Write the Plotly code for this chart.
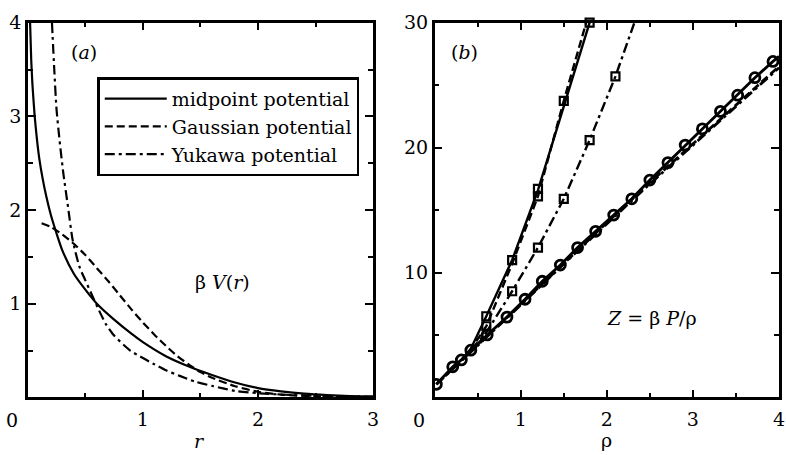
import plotly.graph_objects as go

# ---------------- data: panel (a) ----------------
series_names = ["midpoint potential", "Gaussian potential", "Yukawa potential"]

mid_r = [0.02, 0.03, 0.04, 0.06, 0.08, 0.10, 0.13, 0.16, 0.20, 0.25, 0.30, 0.40, 0.50, 0.60,
         0.75, 0.90, 1.00, 1.20, 1.40, 1.60, 1.80, 2.00, 2.20, 2.40, 2.60, 2.80, 3.00]
mid_v = [4.00, 3.60, 3.35, 3.00, 2.75, 2.55, 2.33, 2.15, 1.95, 1.75, 1.57, 1.32, 1.15, 1.00,
         0.83, 0.68, 0.59, 0.44, 0.33, 0.24, 0.16, 0.10, 0.065, 0.04, 0.025, 0.015, 0.01]

gau_r = [0.12, 0.20, 0.30, 0.40, 0.50, 0.60, 0.70, 0.80, 0.90, 1.00, 1.10, 1.20, 1.30, 1.40,
         1.50, 1.60, 1.80, 2.00, 2.20, 2.50, 2.80, 3.00]
gau_v = [1.86, 1.82, 1.74, 1.64, 1.52, 1.38, 1.24, 1.09, 0.94, 0.80, 0.67, 0.55, 0.44, 0.35,
         0.27, 0.21, 0.12, 0.06, 0.03, 0.012, 0.005, 0.003]

yuk_r = [0.21, 0.23, 0.25, 0.28, 0.31, 0.35, 0.39, 0.45, 0.50, 0.57, 0.63, 0.68, 0.75, 0.89,
         1.00, 1.09, 1.20, 1.32, 1.45, 1.61, 1.80, 2.00, 2.30, 2.60, 3.00]
yuk_v = [4.00, 3.50, 3.07, 2.70, 2.38, 2.03, 1.68, 1.39, 1.25, 1.06, 0.90, 0.78, 0.66, 0.50,
         0.42, 0.36, 0.29, 0.23, 0.17, 0.12, 0.07, 0.045, 0.025, 0.015, 0.008]

# ---------------- data: panel (b) ----------------
circ_rho = [0.02, 0.21, 0.31, 0.42, 0.61, 0.84, 1.05, 1.25, 1.46, 1.66, 1.87, 2.08, 2.29, 2.50,
            2.71, 2.91, 3.11, 3.32, 3.52, 3.72, 3.93]
circ_z = [1.05, 2.45, 3.00, 3.78, 5.00, 6.43, 7.86, 9.30, 10.6, 12.0, 13.3, 14.6, 15.9, 17.4,
          18.8, 20.2, 21.5, 22.9, 24.2, 25.6, 26.9]

low_mid_rho = circ_rho + [4.0]
low_mid_z = circ_z + [27.3]

low_rho = [0.02, 0.5, 1.0, 1.5, 2.0, 2.5, 3.0, 3.5, 4.0]
low_gau_z = [1.05, 4.20, 7.45, 10.8, 14.0, 17.2, 20.3, 23.4, 26.5]
low_yuk_z = [1.05, 4.15, 7.40, 10.7, 13.9, 17.1, 20.2, 23.3, 26.4]

up_mid_rho = [0.31, 0.42, 0.60, 0.90, 1.20, 1.50, 1.80]
up_mid_z = [3.00, 3.90, 6.50, 11.0, 16.6, 23.2, 30.0]
up_gau_rho = [0.31, 0.42, 0.60, 0.90, 1.20, 1.50, 1.76]
up_gau_z = [3.00, 3.85, 5.70, 10.7, 16.1, 23.75, 30.0]
up_yuk_rho = [0.42, 0.60, 0.70, 0.90, 1.20, 1.50, 1.80, 2.10, 2.32]
up_yuk_z = [3.80, 5.20, 6.30, 8.50, 12.0, 15.9, 20.6, 25.7, 30.0]

sq_mid_rho = [0.6, 0.9, 1.2, 1.8]
sq_mid_z = [6.5, 11.0, 16.7, 30.0]
sq_gau_rho = [0.6, 1.2, 1.5]
sq_gau_z = [5.7, 16.1, 23.75]
sq_yuk_rho = [0.9, 1.2, 1.5, 1.8, 2.1]
sq_yuk_z = [8.5, 12.0, 15.9, 20.6, 25.7]

ticks_a_x = [0, 1, 2, 3]
ticks_a_y = [1, 2, 3, 4]
ticks_b_x = [0, 1, 2, 3, 4]
ticks_b_y = [10, 20, 30]

# ---------------- styles ----------------
FONT = "DejaVu Serif"
K = "black"
DASH = "8px,4px"
DASHDOT = "10px,4px,3px,4px"

fig = go.Figure()

# panel (a)
fig.add_trace(go.Scatter(x=mid_r, y=mid_v, mode="lines", name=series_names[0],
                         line=dict(color=K, width=2.2, shape="spline", smoothing=0.6),
                         xaxis="x", yaxis="y"))
fig.add_trace(go.Scatter(x=gau_r, y=gau_v, mode="lines", name=series_names[1],
                         line=dict(color=K, width=2.2, dash=DASH, shape="spline", smoothing=0.6),
                         xaxis="x", yaxis="y"))
fig.add_trace(go.Scatter(x=yuk_r, y=yuk_v, mode="lines", name=series_names[2],
                         line=dict(color=K, width=2.2, dash=DASHDOT, shape="spline", smoothing=0.6),
                         xaxis="x", yaxis="y"))

# panel (b) lower branch
fig.add_trace(go.Scatter(x=low_rho, y=low_gau_z, mode="lines", showlegend=False,
                         line=dict(color=K, width=2.8, dash=DASH), xaxis="x2", yaxis="y2"))
fig.add_trace(go.Scatter(x=low_rho, y=low_yuk_z, mode="lines", showlegend=False,
                         line=dict(color=K, width=2.8, dash=DASHDOT), xaxis="x2", yaxis="y2"))
fig.add_trace(go.Scatter(x=low_mid_rho, y=low_mid_z, mode="lines", showlegend=False,
                         line=dict(color=K, width=2.8), xaxis="x2", yaxis="y2"))
fig.add_trace(go.Scatter(x=circ_rho, y=circ_z, mode="markers", showlegend=False,
                         marker=dict(symbol="circle-open", size=10, color=K, line=dict(width=2.8)),
                         xaxis="x2", yaxis="y2"))

# panel (b) upper branches
fig.add_trace(go.Scatter(x=up_mid_rho, y=up_mid_z, mode="lines", showlegend=False,
                         line=dict(color=K, width=2.4), xaxis="x2", yaxis="y2"))
fig.add_trace(go.Scatter(x=up_gau_rho, y=up_gau_z, mode="lines", showlegend=False,
                         line=dict(color=K, width=2.4, dash=DASH), xaxis="x2", yaxis="y2"))
fig.add_trace(go.Scatter(x=up_yuk_rho, y=up_yuk_z, mode="lines", showlegend=False,
                         line=dict(color=K, width=2.4, dash=DASHDOT), xaxis="x2", yaxis="y2"))
for sx, sy in [(sq_mid_rho, sq_mid_z), (sq_gau_rho, sq_gau_z), (sq_yuk_rho, sq_yuk_z)]:
    fig.add_trace(go.Scatter(x=sx, y=sy, mode="markers", showlegend=False, cliponaxis=False,
                             marker=dict(symbol="square-open", size=8, color=K, line=dict(width=2.2)),
                             xaxis="x2", yaxis="y2"))

axis_common = dict(showline=True, linecolor=K, linewidth=2.5, mirror="ticks",
                   ticks="inside", ticklen=8, tickwidth=2, tickcolor=K,
                   showgrid=False, zeroline=False, fixedrange=True,
                   tickfont=dict(family=FONT, size=19, color=K))

W, H = 786, 455
def px(xp):
    return xp / W
def py(yp):
    return (H - yp) / H

minor_common = dict(ticks="inside", ticklen=5, tickwidth=2, tickcolor=K)

fig.update_layout(
    width=W, height=H,
    margin=dict(l=0, r=0, t=0, b=0),
    paper_bgcolor="white", plot_bgcolor="white",
    font=dict(family=FONT, size=19, color=K),
    xaxis=dict(domain=[px(28), px(376)], range=[0, 3], tickvals=ticks_a_x,
               ticktext=["" if v == 0 else str(v) for v in ticks_a_x], ticklabelstandoff=3,
               minor=dict(dtick=0.5, **minor_common), anchor="y", **axis_common),
    yaxis=dict(domain=[py(396), py(12)], range=[0, 4], tickvals=ticks_a_y,
               minor=dict(dtick=0.5, **minor_common), anchor="x", **axis_common),
    xaxis2=dict(domain=[px(438), px(785)], range=[0, 4], tickvals=ticks_b_x,
                ticktext=["" if v == 0 else str(v) for v in ticks_b_x], ticklabelstandoff=3,
                minor=dict(dtick=0.5, **minor_common), anchor="y2", **axis_common),
    yaxis2=dict(domain=[py(396), py(12)], range=[0, 30], tickvals=ticks_b_y,
                minor=dict(dtick=5, **minor_common), anchor="x2", **axis_common),
    legend=dict(x=px(98), y=py(68), xanchor="left", yanchor="top",
                bgcolor="white", bordercolor=K, borderwidth=2.5,
                font=dict(family=FONT, size=19, color=K), itemwidth=62,
                tracegroupgap=0),
    showlegend=True,
)

ann = [
    dict(text="(<i>a</i>)", x=px(85), y=py(42)),
    dict(text="(<i>b</i>)", x=px(468), y=py(42)),
    dict(text="β <i>V</i>(<i>r</i>)", x=px(224), y=py(278)),
    dict(text="<i>Z</i> = β <i>P</i>/ρ", x=px(657), y=py(315)),
    dict(text="<i>r</i>", x=px(201), y=py(441)),
    dict(text="ρ", x=px(611), y=py(440)),
    dict(text="0", x=px(12), y=py(419)),
    dict(text="0", x=px(422), y=py(419)),
]
for a in ann:
    fig.add_annotation(xref="paper", yref="paper", showarrow=False,
                       xanchor="center", yanchor="middle",
                       font=dict(family=FONT, size=19, color=K), **a)

fig.write_html("out.html")
